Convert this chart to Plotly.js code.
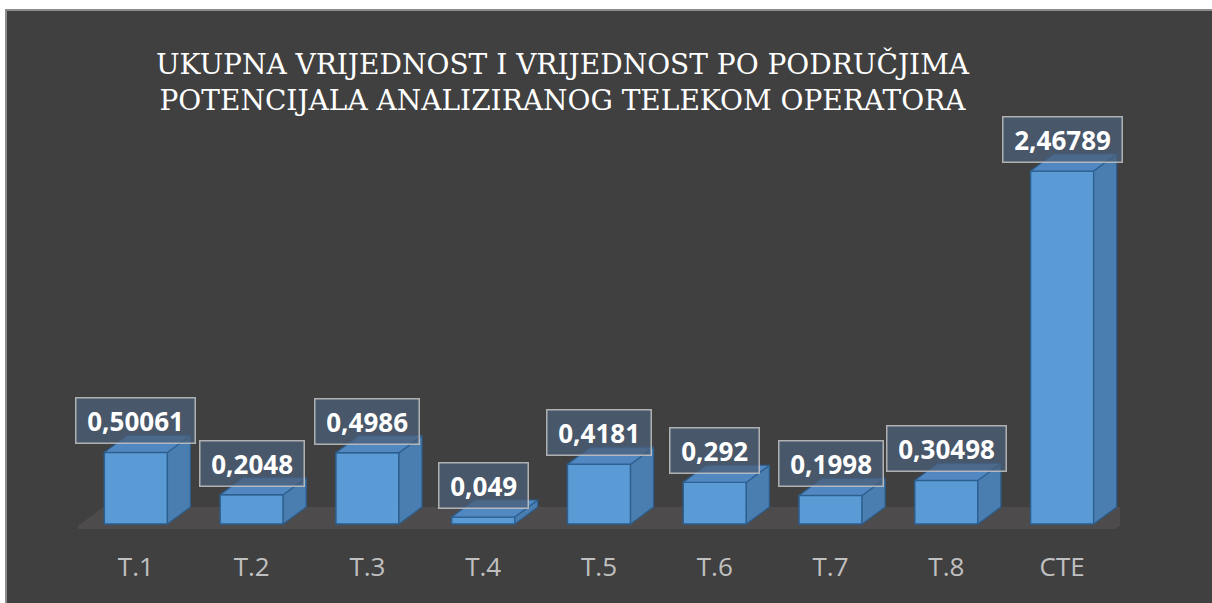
<!DOCTYPE html>
<html>
<head>
<meta charset="utf-8">
<script src="https://cdn.plot.ly/plotly-3.0.1.min.js"></script>
<style>
  html, body { margin: 0; padding: 0; background: #ffffff; width: 1212px; height: 603px; overflow: hidden; }
  #frame { position: absolute; left: 5px; top: 9px; border-left: 2px solid #8c8c8c; border-top: 2px solid #8c8c8c; width: 1205px; height: 592px; }
  #chart { width: 1205px; height: 592px; }
</style>
</head>
<body>
<div id="frame"><div id="chart"></div></div>
<script>
// ---- data ----
const categories = ["T.1", "T.2", "T.3", "T.4", "T.5", "T.6", "T.7", "T.8", "CTE"];
const values = [0.50061, 0.2048, 0.4986, 0.049, 0.4181, 0.292, 0.1998, 0.30498, 2.46789];
const valueLabels = ["0,50061", "0,2048", "0,4986", "0,049", "0,4181", "0,292", "0,1998", "0,30498", "2,46789"];
const titleText = "UKUPNA VRIJEDNOST I VRIJEDNOST PO PODRUČJIMA<br>POTENCIJALA ANALIZIRANOG TELEKOM OPERATORA";

// ---- geometry (style) ----
const W = 1205, H = 592;
const mL = 70.6, mR = 92, mT = 130, mB = 62;
const plotW = W - mL - mR, plotH = H - mT - mB;
const xMin = -0.5, xMax = categories.length - 0.5;
const pxPerX = plotW / (xMax - xMin);
const pxPerY = 143.04;
const zeroPx = 513; // pixel row (in chart div) of value 0
const yMin = -((H - mB) - zeroPx) / pxPerY;
const yMax = yMin + plotH / pxPerY;
const barW = 0.545;
const dX = 23 / pxPerX, dY = 17 / pxPerY;
const xs = categories.map((c, i) => i);

const traces = [];
// front faces
traces.push({
  type: 'bar', x: xs, y: values, width: barW,
  marker: { color: '#5B9BD5', line: { color: '#2C5E8E', width: 1.5 } },
  hoverinfo: 'skip', showlegend: false
});
// side + top faces built from the data values
values.forEach((v, i) => {
  const r = i + barW / 2, l = i - barW / 2;
  traces.push({
    type: 'scatter', mode: 'lines', fill: 'toself',
    x: [r, r + dX, r + dX, r, r], y: [0, dY, v + dY, v, 0],
    fillcolor: '#4A7DB0', line: { color: '#2C5E8E', width: 1.2 },
    hoverinfo: 'skip', showlegend: false
  });
  traces.push({
    type: 'scatter', mode: 'lines', fill: 'toself',
    x: [l, r, r + dX, l + dX, l], y: [v, v, v + dY, v + dY, v],
    fillcolor: '#5288C2', line: { color: '#2C5E8E', width: 1.2 },
    hoverinfo: 'skip', showlegend: false
  });
});

const nb = '\u00a0';
const annotations = values.map((v, i) => ({
  x: i, y: v, xref: 'x', yref: 'y',
  text: nb + valueLabels[i] + nb,
  showarrow: false, yanchor: 'bottom', xanchor: 'center', yshift: 8,
  font: { family: 'Open Sans', size: 26, color: '#ffffff', weight: 700 },
  bgcolor: 'rgba(75,95,120,0.75)', bordercolor: 'rgba(195,195,195,0.85)',
  borderwidth: 1.5, borderpad: 4
}));

// floor parallelogram
const fx0 = xMin - 4.5 / pxPerX, fx1 = xMax - 4.5 / pxPerX;
const fy0 = -5 / pxPerY;
const bx = 30 / pxPerX, by = 22 / pxPerY;
const floorPath = `M ${fx0} ${fy0} L ${fx1} ${fy0} L ${fx1 + bx} ${fy0 + by} L ${fx0 + bx} ${fy0 + by} Z`;

const layout = {
  width: W, height: H,
  paper_bgcolor: '#404040', plot_bgcolor: 'rgba(0,0,0,0)',
  margin: { l: mL, r: mR, t: mT, b: mB, pad: 0 },
  title: {
    text: titleText, xref: 'container', yref: 'container',
    x: 0.461, xanchor: 'center', y: 1 - 63 / H, yanchor: 'top',
    font: { family: 'DejaVu Serif', size: 28, color: '#ffffff' }
  },
  xaxis: {
    range: [xMin, xMax], tickvals: xs, ticktext: categories,
    showgrid: false, zeroline: false, showline: false,
    ticks: 'outside', ticklen: 3, tickcolor: 'rgba(0,0,0,0)',
    tickfont: { family: 'Open Sans', size: 26, color: '#c0c0c0' },
    fixedrange: true
  },
  yaxis: {
    range: [yMin, yMax], visible: false, showgrid: false, zeroline: false, fixedrange: true
  },
  shapes: [{ type: 'path', xref: 'x', yref: 'y', path: floorPath, fillcolor: '#4D4B4B', line: { width: 0 }, layer: 'below' }],
  annotations: annotations,
  showlegend: false, bargap: 0
};

Plotly.newPlot('chart', traces, layout, { displayModeBar: false, staticPlot: true });
</script>
</body>
</html>
